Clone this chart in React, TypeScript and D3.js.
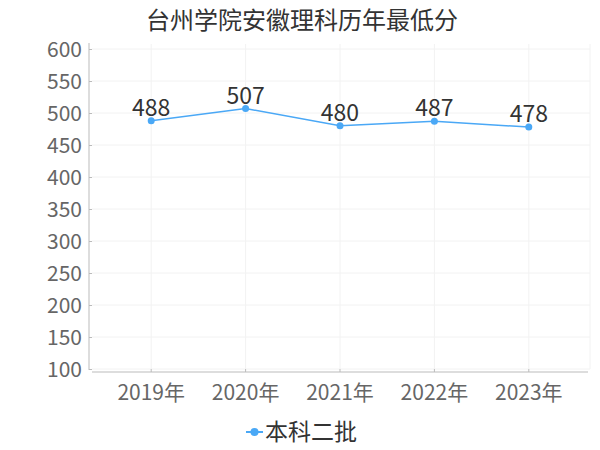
import React, { useEffect, useRef } from 'react';
import * as d3 from 'd3';

// data
const years = ['2019年', '2020年', '2021年', '2022年', '2023年'];
const scores = [488, 507, 480, 487, 478];
const yTicks = [100, 150, 200, 250, 300, 350, 400, 450, 500, 550, 600];
const seriesName = '本科二批';
const title = '台州学院安徽理科历年最低分';

const FONT = '"Noto Sans CJK SC", "Noto Sans", sans-serif';
const LINE = '#4aa8f6';

const App = () => {
  const svgRef = useRef<SVGSVGElement>(null);

  useEffect(() => {
    if (!svgRef.current) return;
    const svg = d3.select(svgRef.current);
    svg.selectAll('*').remove();

    const x = d3.scaleBand<string>().domain(years).range([104, 576]);
    const y = d3.scaleLinear().domain([100, 600]).range([369, 49]);
    const cx = (d: string) => (x(d) || 0) + x.bandwidth() / 2;

    // title
    svg.append('text')
      .attr('x', 302).attr('y', 29)
      .attr('text-anchor', 'middle')
      .attr('font-family', FONT).attr('font-size', 24)
      .attr('fill', '#333')
      .text(title);

    // grid
    const grid = svg.append('g');
    grid.selectAll('line.h')
      .data(yTicks)
      .enter().append('line')
      .attr('x1', 92).attr('x2', 590)
      .attr('y1', d => y(d)).attr('y2', d => y(d))
      .attr('stroke', '#f2f2f2');
    grid.selectAll('line.v')
      .data(years)
      .enter().append('line')
      .attr('x1', d => cx(d)).attr('x2', d => cx(d))
      .attr('y1', 44).attr('y2', 369)
      .attr('stroke', '#f2f2f2');
    grid.append('line')
      .attr('x1', 590).attr('x2', 590).attr('y1', 44).attr('y2', 369)
      .attr('stroke', '#f2f2f2');

    // y axis
    const yAxis = svg.append('g').attr('transform', 'translate(89,0)')
      .call(d3.axisLeft(y).tickValues(yTicks).tickSize(-3).tickPadding(7));
    yAxis.select('.domain').remove();
    yAxis.append('line').attr('x1', 0).attr('x2', 0).attr('y1', 43).attr('y2', 370)
      .attr('stroke', '#bbb');
    yAxis.selectAll('.tick line').attr('stroke', '#bbb');
    yAxis.selectAll('.tick text')
      .attr('font-family', FONT).attr('font-size', 21).attr('fill', '#666')
      .attr('dy', '0.36em');

    // x axis
    const xAxis = svg.append('g').attr('transform', 'translate(0,372)')
      .call(d3.axisBottom(x).tickSize(-3).tickPadding(8));
    xAxis.select('.domain').remove();
    xAxis.append('line').attr('x1', 92).attr('x2', 588).attr('stroke', '#bbb');
    xAxis.selectAll('.tick line').attr('stroke', '#bbb');
    xAxis.selectAll('.tick text')
      .attr('font-family', FONT).attr('font-size', 21).attr('fill', '#666')
      .attr('dy', '0.95em');

    // line + points
    const line = d3.line<number>()
      .x((_, i) => cx(years[i]))
      .y(d => y(d));
    svg.append('path')
      .datum(scores)
      .attr('d', line)
      .attr('fill', 'none')
      .attr('stroke', LINE)
      .attr('stroke-width', 1.5);
    svg.selectAll('circle.pt')
      .data(scores)
      .enter().append('circle')
      .attr('cx', (_, i) => cx(years[i]))
      .attr('cy', d => y(d))
      .attr('r', 3.5)
      .attr('fill', LINE);
    svg.selectAll('text.lbl')
      .data(scores)
      .enter().append('text')
      .attr('x', (_, i) => cx(years[i]))
      .attr('y', d => y(d) - 5)
      .attr('text-anchor', 'middle')
      .attr('font-family', FONT).attr('font-size', 23)
      .attr('fill', '#333')
      .text(d => d);

    // legend
    const lg = svg.append('g').attr('transform', 'translate(246,432)');
    lg.append('line').attr('x1', 0).attr('x2', 17).attr('stroke', LINE).attr('stroke-width', 2);
    lg.append('circle').attr('cx', 8.5).attr('r', 4).attr('fill', LINE);
    lg.append('text')
      .attr('x', 19).attr('y', 0).attr('dy', '0.36em')
      .attr('font-family', FONT).attr('font-size', 23)
      .attr('fill', '#333')
      .text(seriesName);
  }, []);

  return (
    <svg
      ref={svgRef}
      width={600}
      height={450}
      style={{ position: 'absolute', left: 0, top: 0, background: '#fff' }}
    />
  );
};

export default App;
